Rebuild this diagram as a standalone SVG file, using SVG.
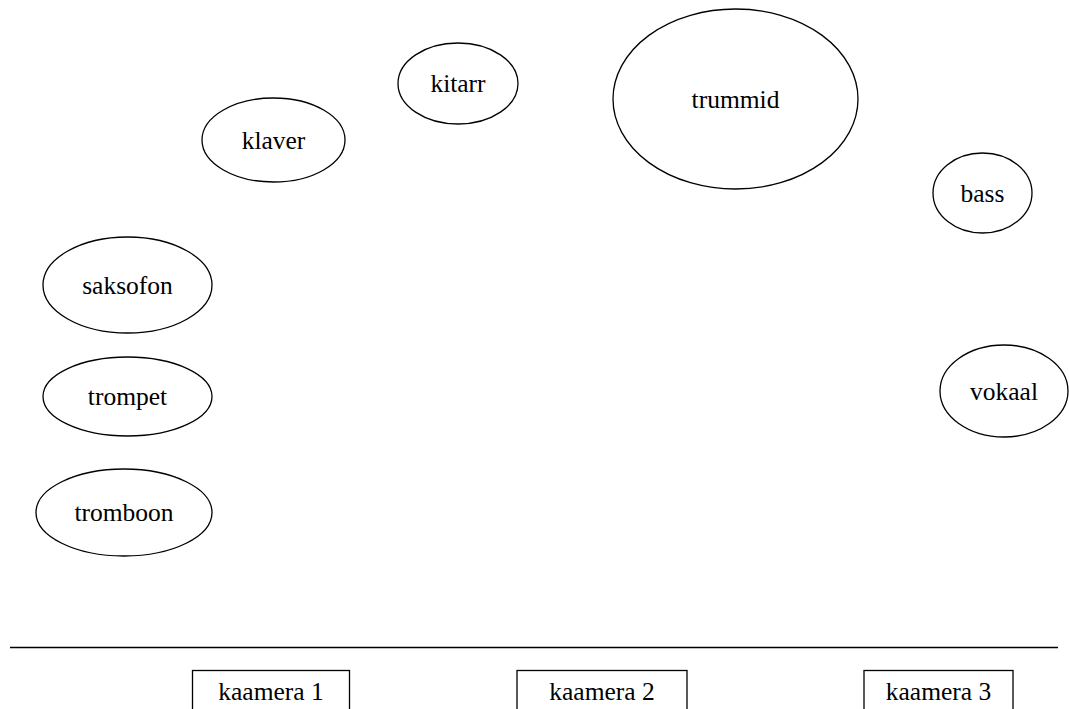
<svg xmlns="http://www.w3.org/2000/svg" width="1069" height="709" viewBox="0 0 1069 709">
<style>
.n{fill:none;stroke:#000;stroke-width:1.3}
.t{font-family:'Liberation Serif','Times New Roman',serif;font-size:25.5px;text-anchor:middle;fill:#000}
</style>
<rect width="1069" height="709" fill="#fff"/>
<g id="kitarr"><ellipse class="n" cx="458" cy="83.5" rx="60" ry="40.5"/><text class="t" x="458" y="92">kitarr</text></g>
<g id="trummid"><ellipse class="n" cx="735.5" cy="99" rx="122.5" ry="90"/><text class="t" x="735.5" y="108">trummid</text></g>
<g id="klaver"><ellipse class="n" cx="273.5" cy="140" rx="71.5" ry="42"/><text class="t" x="273.5" y="148.5">klaver</text></g>
<g id="bass"><ellipse class="n" cx="982.5" cy="193" rx="49.5" ry="40"/><text class="t" x="982.5" y="201.5">bass</text></g>
<g id="saksofon"><ellipse class="n" cx="127.5" cy="285" rx="84.5" ry="48"/><text class="t" x="127.5" y="293.5">saksofon</text></g>
<g id="trompet"><ellipse class="n" cx="127.5" cy="396.5" rx="84.5" ry="39.5"/><text class="t" x="127.5" y="405">trompet</text></g>
<g id="tromboon"><ellipse class="n" cx="124" cy="512.5" rx="88" ry="43.5"/><text class="t" x="124" y="521">tromboon</text></g>
<g id="vokaal"><ellipse class="n" cx="1004" cy="391" rx="64" ry="46"/><text class="t" x="1004" y="399.5">vokaal</text></g>
<g id="connectors"><line x1="10" y1="647.5" x2="1058" y2="647.5" stroke="#000" stroke-width="1.3"/></g>
<g id="kaamera1"><rect class="n" x="192.5" y="670.5" width="157" height="50"/><text class="t" x="271" y="700">kaamera 1</text></g>
<g id="kaamera2"><rect class="n" x="517" y="670.5" width="170" height="50"/><text class="t" x="602" y="700">kaamera 2</text></g>
<g id="kaamera3"><rect class="n" x="864" y="670.5" width="149" height="50"/><text class="t" x="938.5" y="700">kaamera 3</text></g>
</svg>
